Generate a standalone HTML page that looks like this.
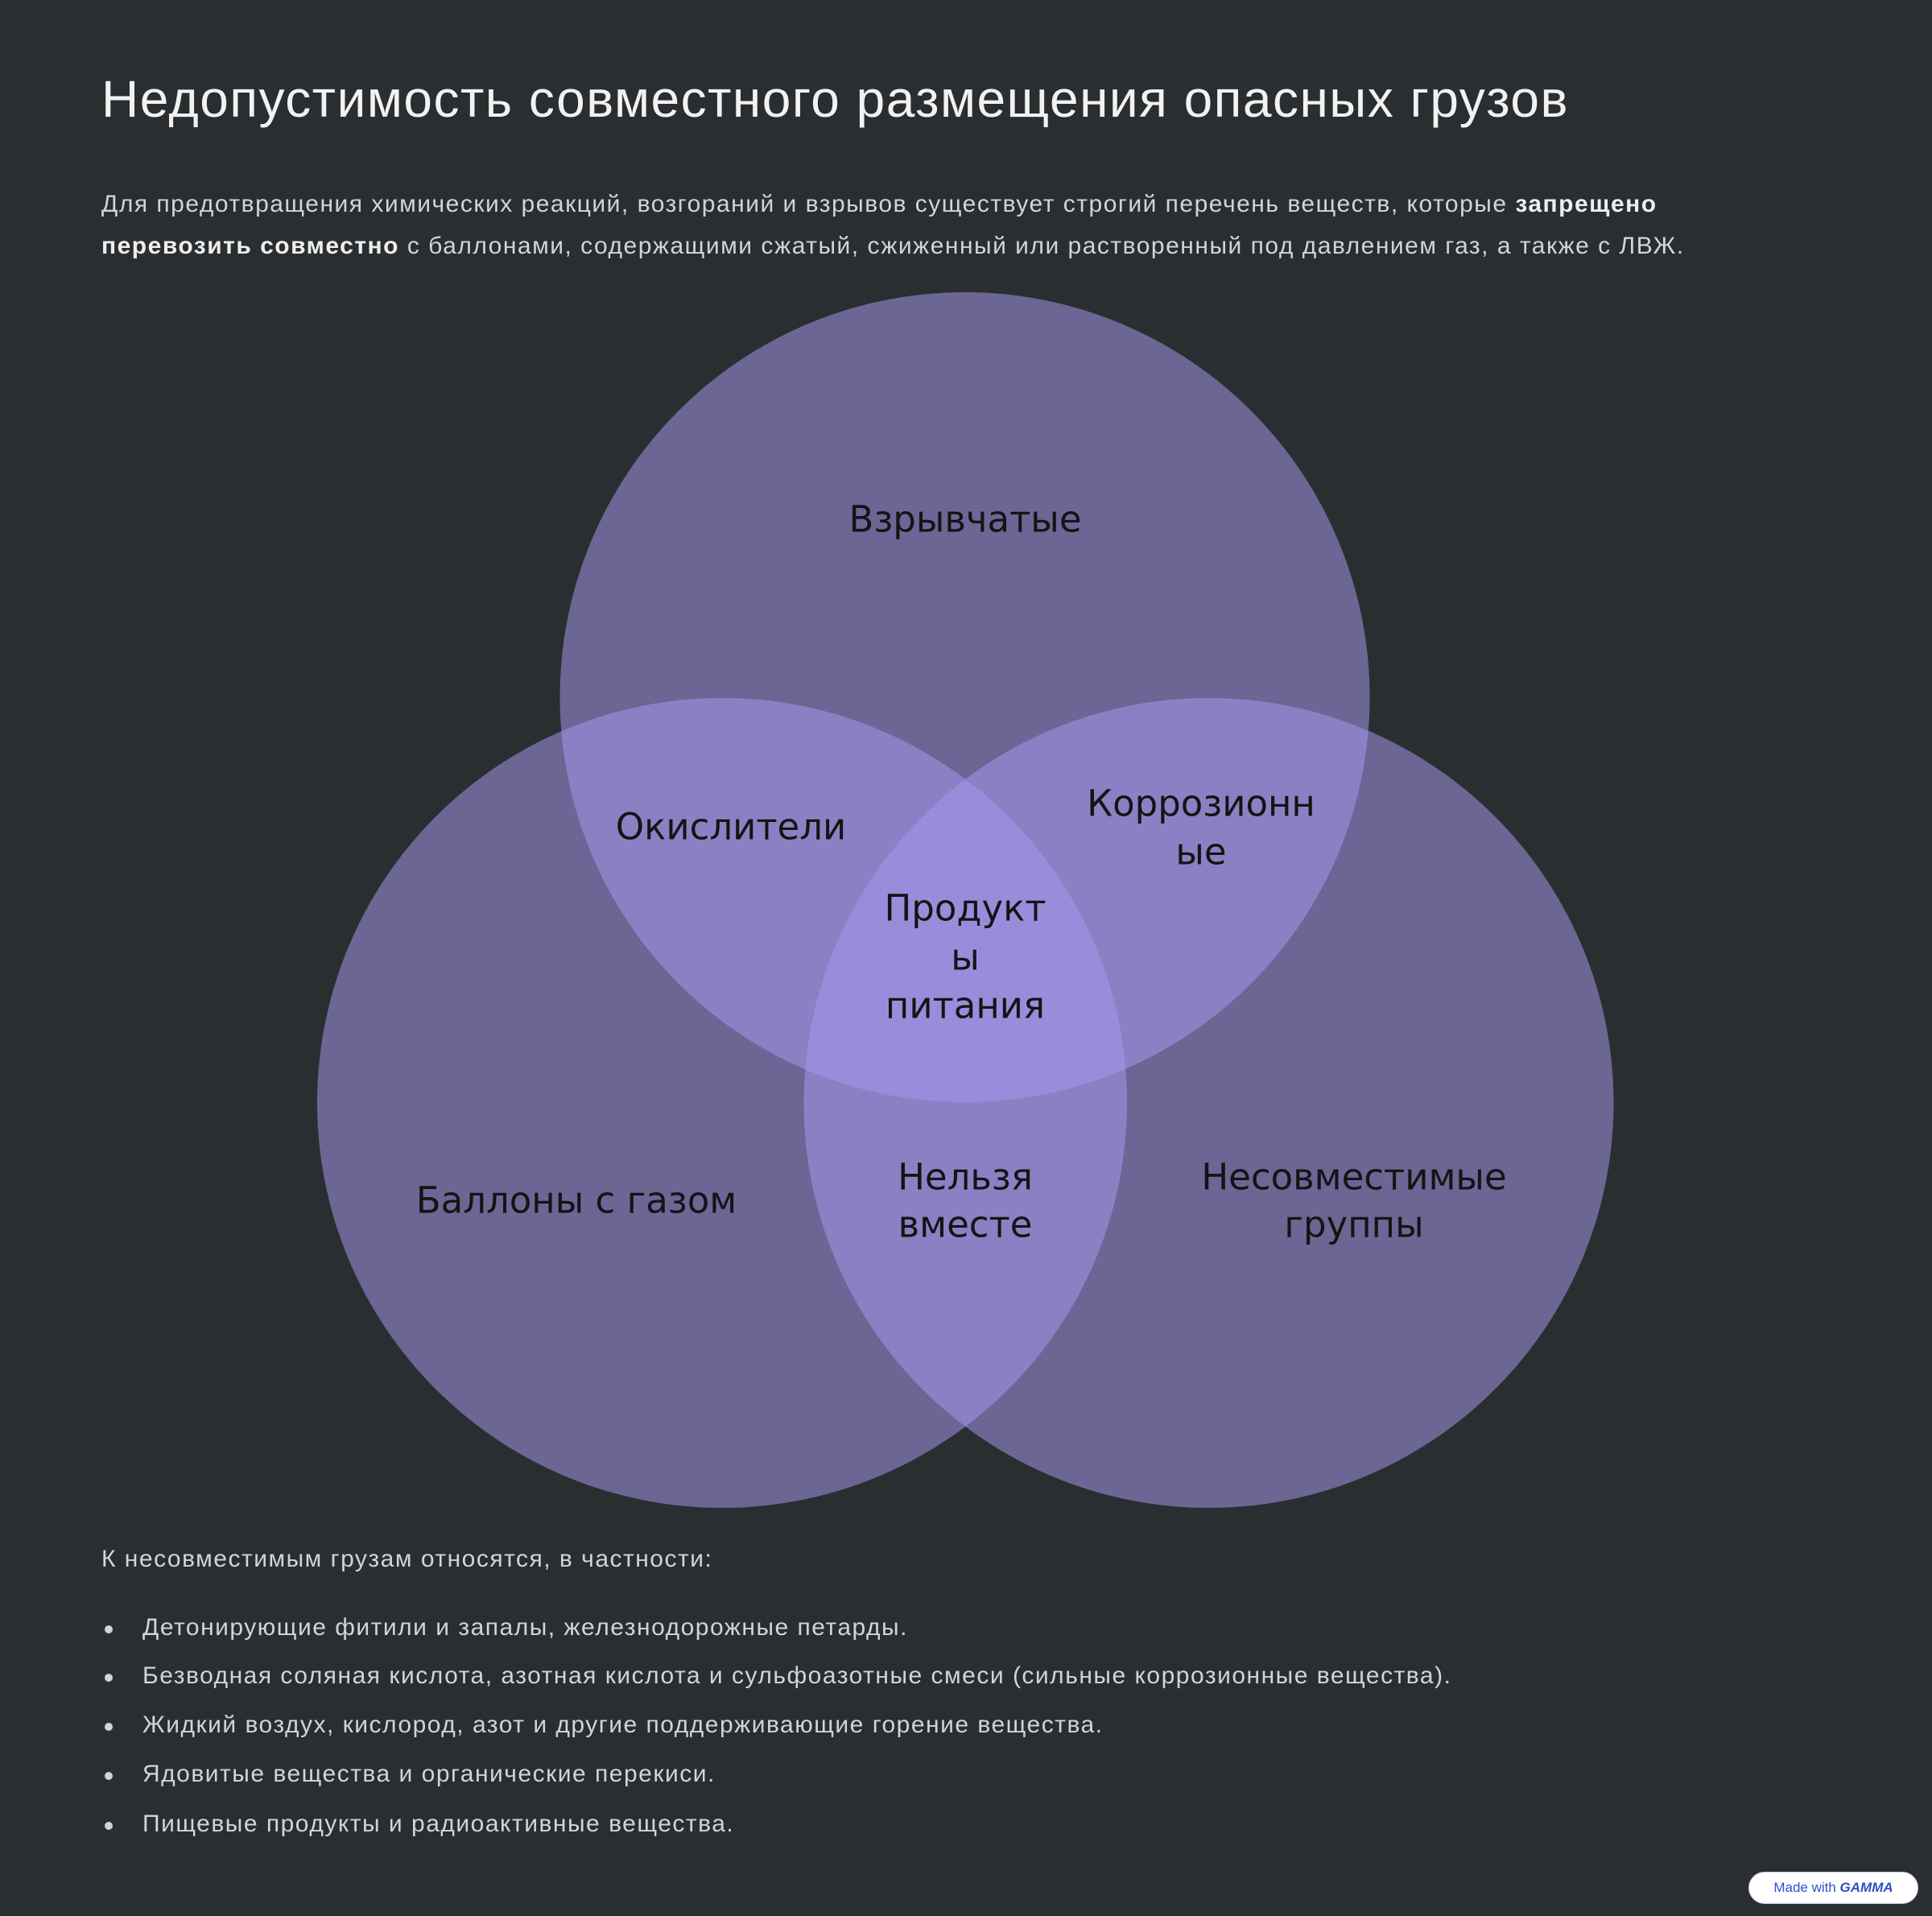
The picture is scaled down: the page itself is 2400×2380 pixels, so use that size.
<!DOCTYPE html>
<html><head><meta charset="utf-8"><style>
html,body{margin:0;padding:0}
body{width:2400px;height:2380px;background:#2b2e30;position:relative;overflow:hidden;font-family:"Liberation Sans","DejaVu Sans",sans-serif}
.t{position:absolute;white-space:nowrap}
.lbl{position:absolute;white-space:nowrap;transform:translate(-50%,-50%);font-size:45px;color:#141414;font-family:"DejaVu Sans","Liberation Sans",sans-serif;line-height:1}
.p{color:#d2d4d6;font-size:30px;letter-spacing:1.5px}
.b{position:absolute;left:130px;width:10px;height:10px;border-radius:50%;background:#d2d4d6}
</style></head><body>
<div class="t" style="left:126px;top:86px;font-size:64px;letter-spacing:1.5px;color:#f2f2f2">Недопустимость совместного размещения опасных грузов</div>
<div class="t p" style="left:126px;top:228px;line-height:52px">Для предотвращения химических реакций, возгораний и взрывов существует строгий перечень веществ, которые <b style="color:#eee">запрещено</b><br><b style="color:#eee">перевозить совместно</b> с баллонами, содержащими сжатый, сжиженный или растворенный под давлением газ, а также с ЛВЖ.</div>
<svg style="position:absolute;left:0;top:0" width="2400" height="2380">
<g fill="rgb(167,154,240)" fill-opacity="0.52">
<circle cx="1198.5" cy="866" r="503"/>
<circle cx="897" cy="1370" r="503"/>
<circle cx="1501.5" cy="1370" r="503"/>
</g></svg>
<div class="lbl" style="left:1199px;top:645px">Взрывчатые</div>
<div class="lbl" style="left:908px;top:1027px">Окислители</div>
<div class="lbl" style="left:1492px;top:998px">Коррозионн</div>
<div class="lbl" style="left:1492px;top:1058px">ые</div>
<div class="lbl" style="left:1199px;top:1128px">Продукт</div>
<div class="lbl" style="left:1199px;top:1189px">ы</div>
<div class="lbl" style="left:1199px;top:1249px">питания</div>
<div class="lbl" style="left:716px;top:1491px">Баллоны с газом</div>
<div class="lbl" style="left:1199px;top:1462px">Нельзя</div>
<div class="lbl" style="left:1199px;top:1521px">вместе</div>
<div class="lbl" style="left:1682px;top:1462px">Несовместимые</div>
<div class="lbl" style="left:1682px;top:1521px">группы</div>
<div class="t p" style="left:126px;top:1920px">К несовместимым грузам относятся, в частности:</div>
<div class="b" style="top:2019px"></div><div class="t p" style="left:177px;top:2005px">Детонирующие фитили и запалы, железнодорожные петарды.</div>
<div class="b" style="top:2079px"></div><div class="t p" style="left:177px;top:2065px">Безводная соляная кислота, азотная кислота и сульфоазотные смеси (сильные коррозионные вещества).</div>
<div class="b" style="top:2140px"></div><div class="t p" style="left:177px;top:2126px">Жидкий воздух, кислород, азот и другие поддерживающие горение вещества.</div>
<div class="b" style="top:2201px"></div><div class="t p" style="left:177px;top:2187px">Ядовитые вещества и органические перекиси.</div>
<div class="b" style="top:2263px"></div><div class="t p" style="left:177px;top:2249px">Пищевые продукты и радиоактивные вещества.</div>
<div style="position:absolute;left:2172px;top:2325px;width:209px;height:38px;border-radius:20px;background:#fff;border:1px solid #c8cce8;font-size:17px;color:#3050c8;line-height:38px;text-align:center">Made with <b style="font-style:italic">GAMMA</b></div>
</body></html>
